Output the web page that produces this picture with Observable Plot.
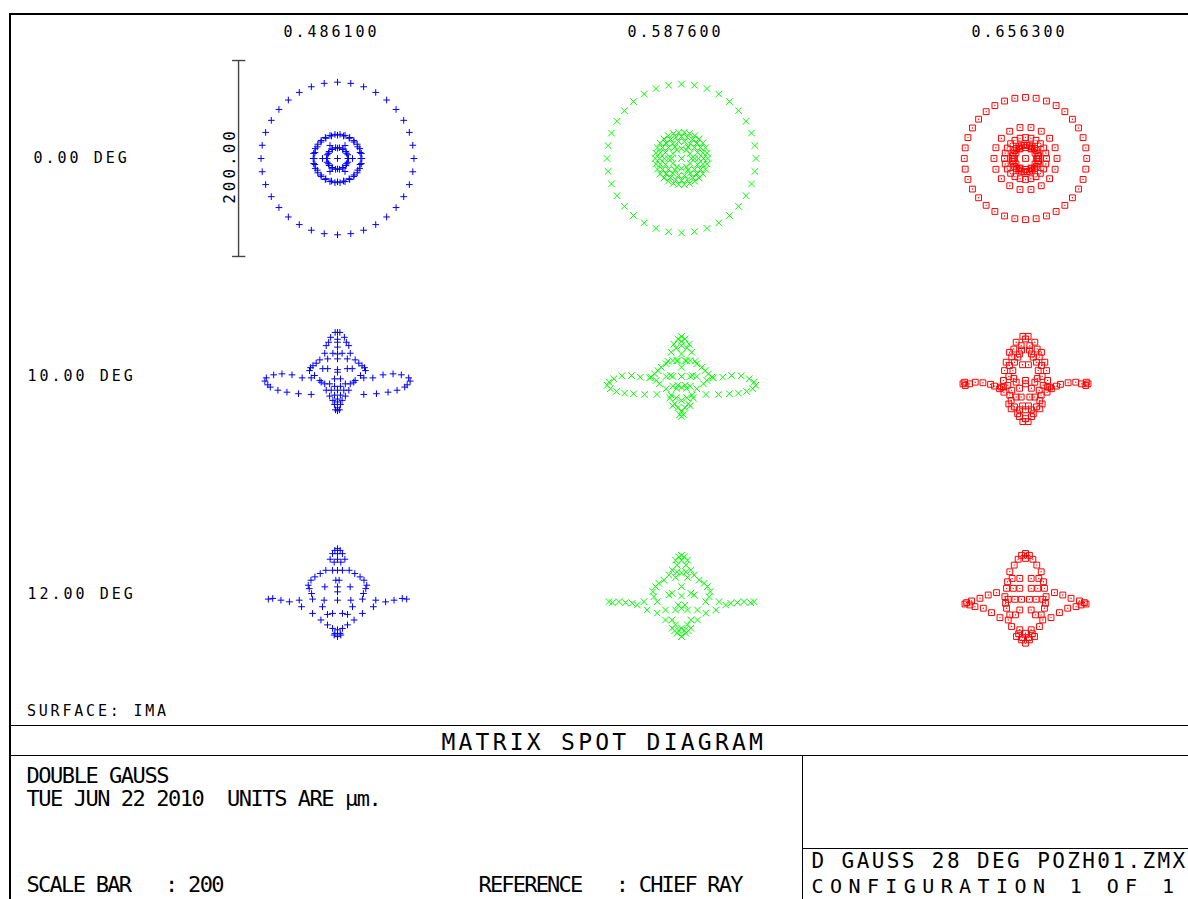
<!DOCTYPE html>
<html>
<head>
<meta charset="utf-8">
<script src="https://cdn.jsdelivr.net/npm/d3@7"></script>
<script src="https://cdn.jsdelivr.net/npm/@observablehq/plot@0.6"></script>
<style>
  html, body { margin: 0; padding: 0; background: #fff; overflow: hidden; width: 1188px; height: 899px; }
  #page { position: absolute; left: 0; top: 0; width: 1188px; height: 899px; overflow: hidden;
          font-family: "DejaVu Sans Mono", monospace; color: #000; }
  #chart { position: absolute; left: 0; top: 0; }
  #chart svg text { letter-spacing: 3px; }
  .t { position: absolute; white-space: pre; line-height: 0.8; }
  .ln { position: absolute; background: #000; }
</style>
</head>
<body>
<div id="page"><div id="chart"></div></div>
<script>
// Matrix layout: columns are wavelengths (µm), rows are field angles
const wavelengths = ["0.486100", "0.587600", "0.656300"];
const fields = ["0.00 DEG", "10.00 DEG", "12.00 DEG"];
const colors = ["#0000ff", "#00ff00", "#ff0000"];
const scaleBar = 200; // µm

// On-axis spots are rotationally symmetric: [ring radius µm, rays on ring]
const blueOnAxis  = [[0, 1], [15.3, 6], [10.6, 12], [11.2, 18], [23.8, 24], [24.8, 30], [77.9, 36]];
const greenOnAxis = [[0, 1], [13.5, 6], [10.0, 12], [17.5, 18], [22.4, 24], [26.8, 30], [75.9, 36]];
const redOnAxis   = [[0, 1], [12.0, 6], [11.2, 12], [32.1, 18], [21.4, 24], [13.7, 30], [62.4, 36]];

// Off-axis spots, ray positions [x, y] µm relative to the chief ray, x >= 0 half
// (the spot is symmetric about the meridional plane)
const blue10 = [
  [0,45],[2.4,45],[7,40],[0,38],[0,35],[9,35],[11.5,31.5],[0,30],[4.7,23.7],[13,23.7],[0,23],
  [0,18],[10,18],[18,17],[21.7,13.6],[25,11],[27.5,9],[28.5,6],[23.4,1],[18,-4],[15,8],[10,8],
  [0,7],[0,4.4],[3,-2.4],[8,-7.5],[13,-7.5],[16.6,-5.8],[3,-10],[6.4,-14],[11.5,-14],[0,-14],
  [3,-19],[8,-20],[0,-23],[4.7,-24.4],[0,-26],[3,-28.5],[0,-32],[2,-34],[0,-35],
  [26.8,-1.4],[36,-1.4],[46.4,1.7],[56.6,2.7],[65,1.7],[72.5,-1.4],[74,-4.7],[71,-8.5],
  [68.5,-10.8],[60.7,-14],[51.5,-16],[39.7,-17.6],[26.8,-18.3]
];
const green10 = [
  [0,40.7],[3.7,38.3],[0,36],[7.8,33],[0,31.5],[5.4,29],[10.5,24.7],[0,23],[3.7,16.3],[8.8,16.3],
  [13.9,15.6],[15.6,13],[20.7,9.5],[24,6],[27.5,2.7],[31,-0.7],[25.8,-4],[22.4,-7.5],[0,9.5],
  [8.8,0],[15.6,0],[0,0],[3.7,-9],[8.8,-10],[15.6,-12.5],[0,-11],[10.5,-19],[5.4,-21.7],[0,-24.4],
  [7,-27.8],[3.7,-31.9],[0,-35],[2,-39],[0,-40.7],[5,16],[11,1],[5,-12],[12,-22],[9,-30],
  [25,-18.3],[37.6,-18.3],[48.8,-17.6],[58,-17],[66.4,-15.3],[72.5,-12.5],[75.6,-9],[73.9,-5.8],
  [69,-2.4],[60.7,0.7],[51,1],[42,-0.7],[32.5,-1.4]
];
const red10 = [
  [2.7,41],[0,38.3],[9.5,35],[4.4,31.5],[11.9,28],[16.3,24.7],[6.1,23],[7.8,19.7],[19.7,14.6],
  [11.2,14.6],[16.3,11.2],[21.4,6],[12.9,6],[0,-4],[0,-7.5],[22.5,-4],[9.5,-5.8],[22.5,-10.8],
  [22,-16],[9.5,-21],[4.4,-21],[14.6,-24.4],[11.2,-31],[6.1,-34],[14.6,-33],[0,-34],[6.1,-41],
  [2.7,-46],[0,-43],[4,27],[14,20],[3,12],[17,0],[12,-2],[6,-12],[14,-14],[18,-9],[17,-28],
  [8,-38],[3,-30],[16,-19],
  [24.7,-10.8],[26.4,-12.5],[31.5,-9.8],[35.6,-8],[43.4,-6.4],[51.2,-5.8],[57,-7.5],[61.4,-9.2],
  [63.7,-7.5],[62,-5.8]
];
const blue12 = [
  [0,46.8],[2.7,45],[5,41.7],[0,41.7],[7.5,36],[3.4,33],[0,36],[11.9,24.7],[5,24.7],[0,24.7],
  [17.6,21.4],[23,18],[27,14.6],[29.8,9.5],[28.8,6],[26.4,1],[12.9,7.8],[0,7.8],[1.7,14.6],
  [0,2.7],[0,-5.8],[13.6,-5.8],[15.3,-12.5],[25.4,-4.7],[10.2,-20.3],[5,-19.3],[25.4,-19.3],
  [16.9,-26],[10.2,-31],[5,-34.6],[0,-36],[2.7,-39.7],[0,-43],[3.4,-41.4],
  [36.6,-12.5],[39,-5.8],[49,-7.5],[57.6,-5.8],[66,-4],[70.5,-4.7]
];
const green12 = [
  [0,40],[2.7,38.5],[6.1,35],[0,35],[4.4,30],[9.5,25],[4.4,23],[0,22],[12.9,19.8],[6.1,17.5],
  [18,14.7],[23,11.4],[26.4,8],[29.2,2.9],[28.1,-2.2],[24.7,-7.3],[0,8],[12.9,-0.5],[9.5,1.2],
  [0,-1.5],[3.4,-10.7],[0,-14],[6.1,-15.8],[16.3,-15.8],[24.7,-19],[16.3,-26],[9.5,-26],
  [6.1,-31],[9.5,-34.4],[0,-34.4],[4.4,-39.5],[0,-42.9],[3,-36.5],[7,-37],
  [35,-15.8],[38.3,-7.3],[45,-10.7],[50.2,-9],[57,-8.3],[63.7,-7.3],[70.5,-8.3],[73.9,-7.3]
];
const red12 = [
  [0,41.9],[4,40],[7.5,36],[0,36.8],[11.5,30],[16,23.2],[5.8,16.4],[13.6,16.4],[18.3,13],
  [19.3,6.3],[12.5,6.3],[5.8,6.3],[21,-2.2],[17.6,-4.9],[10.8,-4.9],[4,-4.9],[20.3,-9],[19.3,-14],
  [5.8,-15.8],[16,-20.8],[10.2,-20.8],[17.6,-26],[14.2,-32.7],[5.8,-36],[9.2,-42.9],[4,-46.3],
  [0,-49.7],[0,-39.5],[3,-44],[7,-40],
  [29.5,1.9],[38,-0.5],[46.4,-3.9],[55,-6.6],[60,-8.3],[61.7,-9.7],[56.6,-10.7],[51.5,-12.4],
  [43,-14],[34.6,-18.5],[26,-23.6]
];

// Footer text block
const footerTitle = "MATRIX SPOT DIAGRAM";
const surfaceNote = "SURFACE: IMA";
const lensTitle = "DOUBLE GAUSS";
const dateLine = "TUE JUN 22 2010  UNITS ARE \u00b5m.";
const scaleLine = "SCALE BAR   : 200";
const referenceLine = "REFERENCE   : CHIEF RAY";
const fileLine = "D GAUSS 28 DEG POZH01.ZMX";
const configLine = "CONFIGURATION 1 OF 1";

// ---- build the ray table ----
const rays = [];
function addRings(wi, fi, rings) {
  for (const [r, n] of rings) {
    for (let k = 0; k < n; k++) {
      const a = 2 * Math.PI * k / n;
      rays.push({wl: wavelengths[wi], field: fields[fi], x: r * Math.cos(a), y: r * Math.sin(a)});
    }
  }
}
function addHalf(wi, fi, pts) {
  for (const [x, y] of pts) {
    rays.push({wl: wavelengths[wi], field: fields[fi], x, y});
    if (x > 0.5) rays.push({wl: wavelengths[wi], field: fields[fi], x: -x, y});
  }
}
addRings(0, 0, blueOnAxis); addRings(1, 0, greenOnAxis); addRings(2, 0, redOnAxis);
addHalf(0, 1, blue10); addHalf(1, 1, green10); addHalf(2, 1, red10);
addHalf(0, 2, blue12); addHalf(1, 2, green12); addHalf(2, 2, red12);

// ---- geometry of the matrix (pixels per µm and cell size) ----
const pxPerUm = 0.982;
const gridLeft = 164.75, gridTop = 48.25, cellW = 344.17, cellH = 218.5;
const W = 1200, H = 725;
const xHalf = cellW / 2 / pxPerUm, yHalf = cellH / 2 / pxPerUm;

const headers = wavelengths.map(w => ({wl: w, field: fields[0], x: -6.1, y: 128.8}));
const fieldLabels = fields.map(f => ({wl: wavelengths[0], field: f, x: -260.7, y: 0}));
const bar = [{wl: wavelengths[0], field: fields[0], x: -100.8, y1: -scaleBar / 2, y2: scaleBar / 2}];
const barCaps = [-scaleBar / 2, scaleBar / 2].map(y => ({wl: wavelengths[0], field: fields[0], y, x1: -106.9, x2: -93.4}));
const barLabel = [{wl: wavelengths[0], field: fields[0], x: -109.4, y: -7.6, text: scaleBar.toFixed(2)}];

const symbols = [d3.symbolPlus, d3.symbolTimes, d3.symbolSquare2];
const radii = [2.3, 3.1, 3.7];

const chart = Plot.plot({
  width: W, height: H,
  marginLeft: gridLeft, marginTop: gridTop,
  marginRight: W - gridLeft - 3 * cellW, marginBottom: H - gridTop - 3 * cellH,
  style: {fontFamily: "DejaVu Sans Mono", fontSize: "15px", background: "transparent", maxWidth: "none", overflow: "visible", color: "#000"},
  fx: {domain: wavelengths, padding: 0, axis: null},
  fy: {domain: fields, padding: 0, axis: null},
  x: {domain: [-xHalf, xHalf], axis: null},
  y: {domain: [-yHalf, yHalf], axis: null},
  marks: [
    Plot.ruleX(bar, {x: "x", y1: "y1", y2: "y2", fx: "wl", fy: "field", stroke: "#444", strokeWidth: 1.4}),
    Plot.ruleY(barCaps, {y: "y", x1: "x1", x2: "x2", fx: "wl", fy: "field", stroke: "#444", strokeWidth: 1.4}),
    Plot.text(barLabel, {x: "x", y: "y", text: "text", rotate: -90, fx: "wl", fy: "field", fontSize: 16}),
    Plot.text(headers, {x: "x", y: "y", text: "wl", fx: "wl", fy: "field", fontSize: 15}),
    Plot.text(fieldLabels, {x: "x", y: "y", text: "field", fx: "wl", fy: "field", fontSize: 15}),
    ...wavelengths.map((w, i) => Plot.dot(rays.filter(d => d.wl === w), {
      x: "x", y: "y", fx: "wl", fy: "field",
      symbol: symbols[i], r: radii[i], stroke: colors[i], strokeWidth: 1, fill: "none"
    })),
    Plot.dot(rays.filter(d => d.wl === wavelengths[2]), {x: "x", y: "y", fx: "wl", fy: "field", r: 0.7, fill: colors[2], stroke: "none"})
  ]
});
document.getElementById("chart").appendChild(chart);

// ---- frame lines and footer text ----
const page = document.getElementById("page");
function line(x, y, w, h) {
  const d = document.createElement("div");
  d.className = "ln";
  Object.assign(d.style, {left: x + "px", top: y + "px", width: w + "px", height: h + "px"});
  page.appendChild(d);
}
// capTop is the top of the capital letters; with line-height 0.8 it sits 0.017em below the box top
function label(str, x, capTop, fs, ls) {
  const d = document.createElement("div");
  d.className = "t";
  d.textContent = str;
  Object.assign(d.style, {left: (x - 0.07 * fs) + "px", top: (capTop - 0.017 * fs) + "px",
    fontSize: fs + "px", letterSpacing: ls + "px"});
  page.appendChild(d);
}
line(8.5, 13.3, 1300, 2);
line(8.5, 13.3, 2, 900);
line(8.5, 724.5, 1300, 1.5);
line(8.5, 754.5, 1300, 1.5);
line(801.5, 754.5, 1.5, 200);
line(801.5, 847.5, 500, 1.5);

label(surfaceNote, 28, 705, 15, 2.8);
label(footerTitle, 443, 733, 23, 3.25);
label(lensTitle, 28, 767, 22, -1.45);
label(dateLine, 28, 790, 22, -1.45);
label(scaleLine, 28, 876, 22, -1.7);
label(referenceLine, 480, 876, 22, -1.8);
label(fileLine, 813, 853, 21, 2.4);
label(configLine, 813, 878.4, 20, 6.4);
</script>
</body>
</html>
